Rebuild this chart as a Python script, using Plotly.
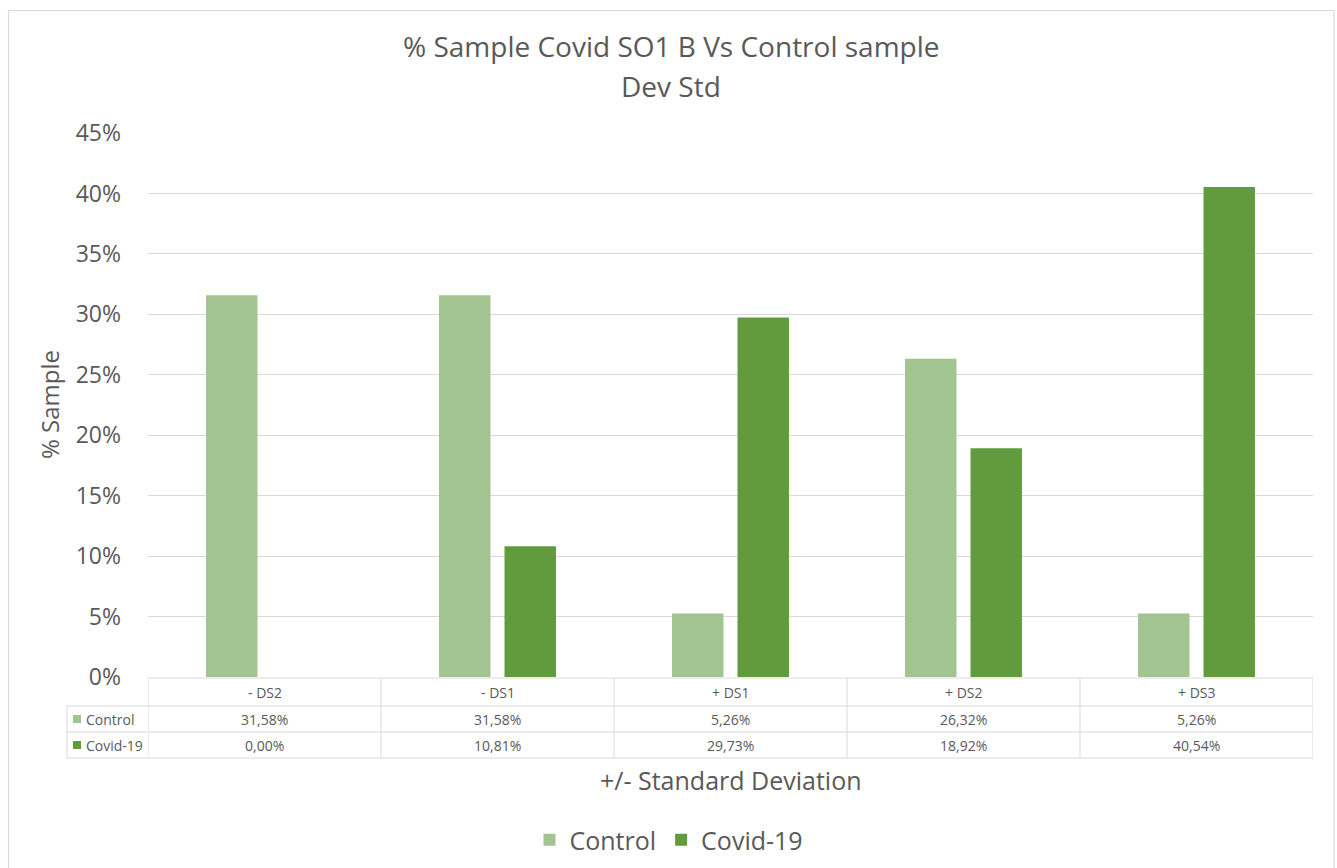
import plotly.graph_objects as go

# Data
categories = ["- DS2", "- DS1", "+ DS1", "+ DS2", "+ DS3"]
control = [31.58, 31.58, 5.26, 26.32, 5.26]
covid = [0.00, 10.81, 29.73, 18.92, 40.54]
series_names = ["Control", "Covid-19"]
y_ticks = [0, 5, 10, 15, 20, 25, 30, 35, 40, 45]
y_tick_text = [f"{v}%" for v in y_ticks]

W, H = 1337, 868
L, R, T, B = 148, 24, 133, 191
PW, PH = W - L - R, H - T - B

TEXT = "#595959"
GRID = "#D9D9D9"
C_CONTROL = "#A2C490"
C_COVID = "#629B3E"
FONT = "Open Sans"


def px_x(x):
    return (x - L) / PW


def px_y(y):
    return (H - B - y) / PH


fig = go.Figure()
fig.add_bar(x=categories, y=control, name=series_names[0],
            marker=dict(color=C_CONTROL, line=dict(width=0)))
fig.add_bar(x=categories, y=covid, name=series_names[1],
            marker=dict(color=C_COVID, line=dict(width=0)))

shapes = []
annotations = []

# outer chart frame
shapes.append(dict(type="rect", xref="paper", yref="paper",
                   x0=px_x(8.5), x1=px_x(1334), y0=px_y(880), y1=px_y(10.5),
                   line=dict(color="#D9D9D9", width=1.2), layer="below"))

# data table under the plot
row_top, row1, row2, row3 = 678, 706, 732, 758
line_style = dict(color=GRID, width=1)
shapes.append(dict(type="line", xref="paper", yref="paper",
                   x0=0, x1=1, y0=px_y(row_top), y1=px_y(row_top), line=line_style))
for yy in (row1, row2, row3):
    shapes.append(dict(type="line", xref="paper", yref="paper",
                       x0=px_x(67), x1=1, y0=px_y(yy), y1=px_y(yy), line=line_style))
for i in range(len(categories) + 1):
    shapes.append(dict(type="line", xref="x", yref="paper",
                       x0=i - 0.5, x1=i - 0.5, y0=px_y(row_top), y1=px_y(row3),
                       line=line_style))
shapes.append(dict(type="line", xref="paper", yref="paper",
                   x0=px_x(67), x1=px_x(67), y0=px_y(row1), y1=px_y(row3),
                   line=line_style))


def fmt(v):
    return f"{v:.2f}%".replace(".", ",")


def cell(x, y, text, xref="x", xanchor="center", size=14):
    return dict(x=x, y=y, xref=xref, yref="paper", text=text, showarrow=False,
                xanchor=xanchor, yanchor="middle",
                font=dict(family=FONT, size=size, color=TEXT))


for i, cat in enumerate(categories):
    annotations.append(cell(i, px_y((row_top + row1) / 2), cat))
    annotations.append(cell(i, px_y((row1 + row2) / 2), fmt(control[i])))
    annotations.append(cell(i, px_y((row2 + row3) / 2), fmt(covid[i])))

# legend keys inside the table
for name, color, (ya, yb) in zip(series_names, [C_CONTROL, C_COVID],
                                 [(row1, row2), (row2, row3)]):
    yc = (ya + yb) / 2
    shapes.append(dict(type="rect", xref="paper", yref="paper",
                       x0=px_x(73), x1=px_x(81), y0=px_y(yc + 4), y1=px_y(yc - 4),
                       fillcolor=color, line=dict(width=0)))
    annotations.append(cell(px_x(84), px_y(yc), name, xref="paper", xanchor="left"))

# chart title (two lines)
annotations.append(dict(x=px_x(671), y=px_y(46), xref="paper", yref="paper",
                        text="% Sample Covid SO1 B Vs Control sample", showarrow=False,
                        xanchor="center", yanchor="middle",
                        font=dict(family=FONT, size=28, color=TEXT)))
annotations.append(dict(x=px_x(671), y=px_y(86), xref="paper", yref="paper",
                        text="Dev Std", showarrow=False,
                        xanchor="center", yanchor="middle",
                        font=dict(family=FONT, size=28, color=TEXT)))

# axis titles
annotations.append(dict(x=px_x(49), y=0.5, xref="paper", yref="paper",
                        text="% Sample", textangle=-90, showarrow=False,
                        xanchor="center", yanchor="middle",
                        font=dict(family=FONT, size=24, color=TEXT)))
annotations.append(dict(x=px_x(731), y=px_y(780), xref="paper", yref="paper",
                        text="+/- Standard Deviation", showarrow=False,
                        xanchor="center", yanchor="middle",
                        font=dict(family=FONT, size=25, color=TEXT)))

fig.update_layout(
    width=W, height=H,
    margin=dict(l=L, r=R, t=T, b=B, autoexpand=False),
    paper_bgcolor="white", plot_bgcolor="white",
    barmode="group", bargap=0.438, bargroupgap=0.214,
    xaxis=dict(range=[-0.5, len(categories) - 0.5], showticklabels=False,
               showgrid=False, showline=False, zeroline=False, ticks=""),
    yaxis=dict(range=[0, 45], tickmode="array", tickvals=y_ticks, ticktext=y_tick_text,
               showgrid=True, gridcolor=GRID, gridwidth=1,
               showline=False, zeroline=False, ticklabelstandoff=26,
               tickfont=dict(family=FONT, size=23, color=TEXT)),
    legend=dict(orientation="h", x=px_x(669), xanchor="center",
                y=px_y(840), yanchor="middle", itemwidth=30,
                font=dict(family=FONT, size=25, color=TEXT)),
    shapes=shapes, annotations=annotations,
)

fig.write_html("out.html")
